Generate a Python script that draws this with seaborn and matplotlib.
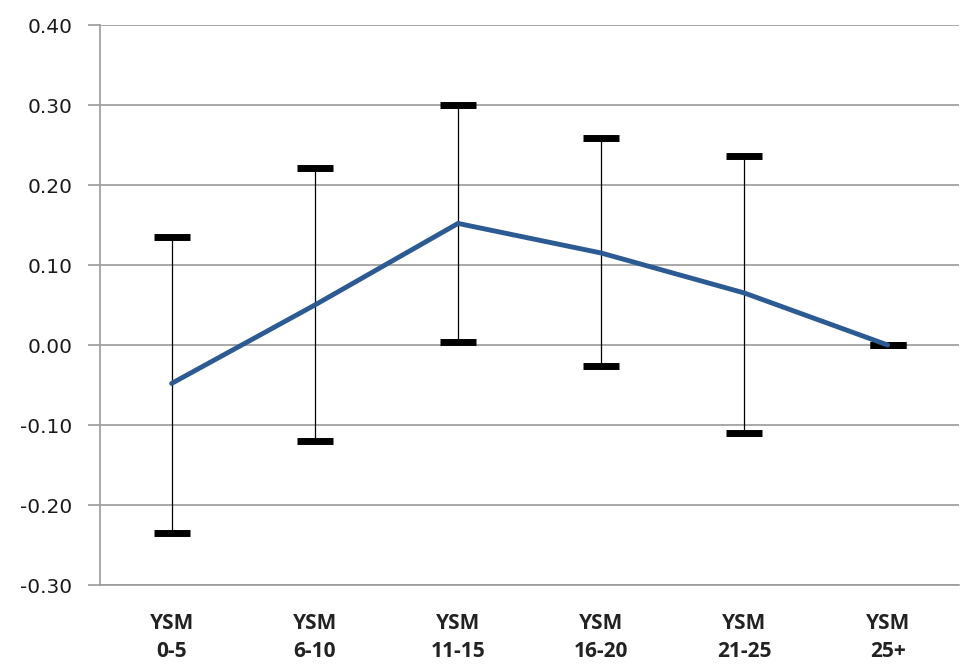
import numpy as np
import pandas as pd
import matplotlib
matplotlib.use('Agg')
import matplotlib.pyplot as plt
import seaborn as sns

# data
groups = ['YSM\n0-5', 'YSM\n6-10', 'YSM\n11-15', 'YSM\n16-20', 'YSM\n21-25', 'YSM\n25+']
estimate = [-0.048, 0.050, 0.152, 0.115, 0.065, 0.000]
upper = [0.135, 0.221, 0.300, 0.259, 0.236, 0.000]
lower = [-0.235, -0.120, 0.004, -0.026, -0.110, 0.000]
y_ticks = [-0.30, -0.20, -0.10, 0.00, 0.10, 0.20, 0.30, 0.40]

df = pd.DataFrame({'pos': np.arange(len(groups)), 'group': groups,
                   'estimate': estimate, 'upper': upper, 'lower': lower})

sns.set_style('white')
plt.rcParams['font.family'] = ['DejaVu Sans']

fig = plt.figure(figsize=(9.6, 6.67), dpi=100)
ax = fig.add_axes([0.1042, 0.1229, 0.895, 0.8396])

# error bars (asymmetric)
yerr = np.array([df['estimate'] - df['lower'], df['upper'] - df['estimate']])
ax.errorbar(df['pos'], df['estimate'], yerr=yerr, fmt='none', ecolor='black',
            elinewidth=0.9, capsize=13, capthick=5, zorder=2)

# main line
sns.lineplot(data=df, x='pos', y='estimate', color='#2C5A93', linewidth=3.5,
             ax=ax, zorder=3)

ax.set_xlim(-0.5, 5.5)
ax.set_ylim(-0.30, 0.40)
ax.set_yticks(y_ticks)
ax.set_yticklabels(['%.2f' % v for v in y_ticks], fontsize=14.5, color='#1a1a1a')
ax.set_xticks(df['pos'])
ax.set_xticklabels(groups, fontsize=15, fontweight='bold', color='#222222',
                   linespacing=1.45, family='Open Sans')
ax.set_xlabel('')
ax.set_ylabel('')

ax.grid(axis='y', color='#9a9a9a', linewidth=1.2)
ax.grid(axis='x', visible=False)
for side in ['top', 'right']:
    ax.spines[side].set_visible(False)
ax.spines['left'].set_color('#9a9a9a')
ax.spines['left'].set_linewidth(1.2)
ax.spines['bottom'].set_color('#9a9a9a')
ax.spines['bottom'].set_linewidth(1.2)
ax.tick_params(axis='y', length=9, color='#9a9a9a', width=1.2, pad=11, left=True)
ax.tick_params(axis='x', length=0, pad=20)

plt.savefig('out.png', dpi=100)
